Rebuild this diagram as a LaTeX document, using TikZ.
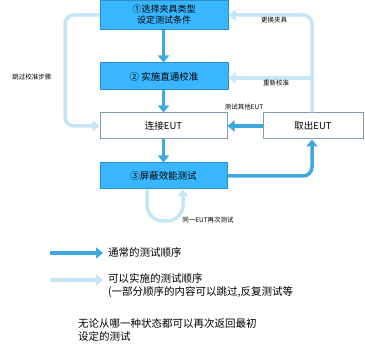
\documentclass[tikz,border=0pt]{standalone}
\usepackage{fontspec}
\setmainfont{Noto Sans CJK SC}
\usetikzlibrary{arrows.meta}
\definecolor{boxblue}{HTML}{38B6FF}
\definecolor{boxedge}{HTML}{2A8FC8}
\definecolor{darkarr}{HTML}{3FA9DF}
\definecolor{lightarr}{HTML}{C6E5F5}
\definecolor{whiteedge}{HTML}{7F9FB0}
\begin{document}
\begin{tikzpicture}[x=1pt,y=-1pt,
  bluebox/.style={draw=boxedge,line width=1pt,fill=boxblue,minimum width=128pt,inner sep=0pt,align=center,font=\fontsize{9.5}{11}\selectfont},
  whitebox/.style={draw=whiteedge,line width=1pt,fill=white,inner sep=0pt,align=center,font=\fontsize{9.5}{11}\selectfont},
  darr/.style={draw=darkarr,line width=3.5pt,-{Triangle[length=7pt,width=11pt]}},
  larr/.style={draw=lightarr,line width=3.5pt,-{Triangle[length=7pt,width=11pt]}},
  lab/.style={font=\fontsize{6.5}{7}\selectfont,inner sep=0pt},
  legtxt/.style={font=\fontsize{10.5}{13}\selectfont,inner sep=0pt,anchor=west,align=left}]
\path[use as bounding box,fill=white] (0,0) rectangle (365,352);
% boxes
\node[bluebox,minimum height=29pt,font=\fontsize{9}{11}\selectfont] (b1) at (164,15) {①选择夹具类型\\设定测试条件};
\node[bluebox,minimum height=27pt] (b2) at (164,76.5) {② 实施直通校准};
\node[whitebox,minimum width=127pt,minimum height=26pt] (b3) at (163.5,126) {连接EUT};
\node[whitebox,minimum width=100pt,minimum height=26pt] (b4) at (313,126) {取出EUT};
\node[bluebox,minimum width=127pt,minimum height=26pt] (b5) at (163.5,176) {③屏蔽效能测试};
% coordinates
\coordinate (rtop) at (312,15);
\coordinate (rmid) at (312,78);
\coordinate (ltop) at (65,15);
\coordinate (lbot) at (65,126);
\coordinate (bl) at (147,221);
\coordinate (br) at (183,221);
% light arrows
\draw[larr,rounded corners=9pt] (b4.north -| rtop) -- (rtop) -- (b1.east |- rtop);
\draw[larr] (rmid) -- (b2.east |- rmid);
\draw[larr,rounded corners=9pt] (b1.west |- ltop) -- (ltop) -- (lbot) -- (b3.west |- lbot);
\draw[larr,rounded corners=16pt] (b5.south -| bl) -- (bl) -- (br) -- (b5.south -| br);
% dark arrows
\draw[darr] (b1.south -| 163.5,0) -- (b2.north -| 163.5,0);
\draw[darr] (b2.south -| 163.5,0) -- (b3.north -| 163.5,0);
\draw[darr] (b3.south) -- (b5.north);
\draw[darr] (b4.west) -- (b3.east);
\draw[darr,rounded corners=9pt] (b5.east) -- (312,176) -- (b4.south -| rtop);
% labels
\node[lab] (l1) at (274,20) {更换夹具};
\node[lab] (l2) at (276,83) {重新校准};
\node[lab] (l3) at (244,107) {测试其他EUT};
\node[lab] (l4) at (32,77) {跳过校准步骤};
\node[lab] (l5) at (208,220) {同一EUT再次测试};
% legend
\coordinate (g1a) at (50,253); \coordinate (g1b) at (103,253);
\coordinate (g2a) at (50,280); \coordinate (g2b) at (103,280);
\draw[darr] (g1a) -- (g1b);
\draw[larr] (g2a) -- (g2b);
\node[legtxt] (t1) at (108,253) {通常的测试顺序};
\node[legtxt,anchor=north west] (t2) at (108,273) {可以实施的测试顺序\\(一部分顺序的内容可以跳过,反复测试等};
\node[legtxt,anchor=north west] (t3) at (78,318) {无论从哪一种状态都可以再次返回最初\\设定的测试};
\end{tikzpicture}
\end{document}
